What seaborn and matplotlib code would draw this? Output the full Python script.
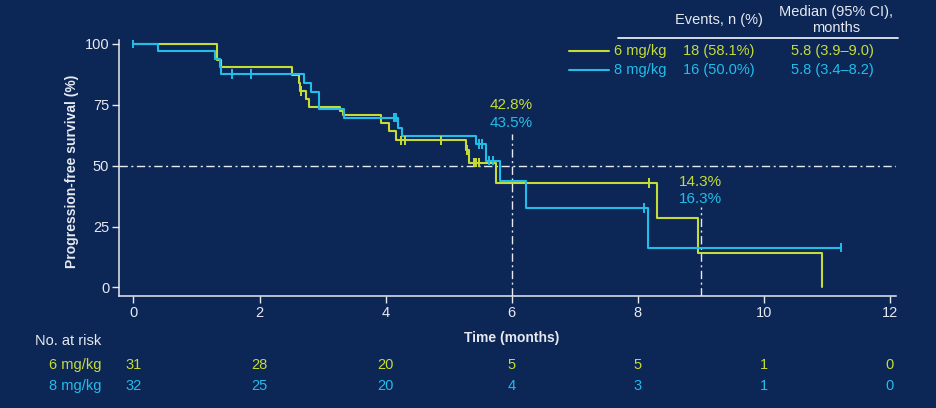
import numpy as np
import pandas as pd
import seaborn as sns
import matplotlib
matplotlib.use('Agg')
import matplotlib.pyplot as plt
from matplotlib.lines import Line2D
from matplotlib import font_manager

# KM curves (time in months, PFS in %)
t6 = [0, 1.33, 1.39, 2.52, 2.62, 2.65, 2.74, 2.78, 3.27, 3.32, 3.92, 4.05, 4.17, 5.27, 5.33, 5.76, 8.30, 8.96, 10.93]
s6 = [100, 93.5, 90.3, 87.1, 84.0, 80.6, 77.3, 73.9, 72.3, 70.6, 67.3, 64.1, 60.4, 56.4, 51.2, 42.8, 28.5, 14.3, 0]
cens6 = [2.66, 4.25, 4.31, 4.88, 5.30, 5.41, 5.44, 5.49, 8.18]

t8 = [0, 0.39, 1.30, 1.37, 1.39, 2.71, 2.82, 2.94, 3.34, 4.20, 4.26, 5.44, 5.60, 5.82, 6.23, 8.16, 11.23]
s8 = [100, 96.9, 93.8, 90.6, 87.5, 83.7, 80.2, 73.3, 69.6, 65.5, 62.3, 58.9, 52.0, 43.5, 32.6, 16.3, 16.3]
cens8 = [0.0, 1.57, 1.87, 4.13, 4.17, 5.48, 5.53, 5.64, 5.70, 8.10, 11.23]

arms = ['6 mg/kg', '8 mg/kg']
events = ['18 (58.1%)', '16 (50.0%)']
medians = ['5.8 (3.9\u20139.0)', '5.8 (3.4\u20138.2)']

landmarks = [6, 9]
lm_6 = ['42.8%', '14.3%']
lm_8 = ['43.5%', '16.3%']

risk_times = [0, 2, 4, 6, 8, 10, 12]
risk6 = [31, 28, 20, 5, 5, 1, 0]
risk8 = [32, 25, 20, 4, 3, 1, 0]

bg = '#0c2656'
fg = '#e6e9f0'
green = '#c6dc36'
blue = '#22bde8'
colors = {arms[0]: green, arms[1]: blue}

sns.set_style('white')
names = {f.name for f in font_manager.fontManager.ttflist}
narrow = 'Liberation Sans Narrow' if 'Liberation Sans Narrow' in names else 'Liberation Sans'
plt.rcParams['font.family'] = ['Liberation Sans', 'DejaVu Sans']

curves = pd.concat([
    pd.DataFrame({'time': t6, 'pfs': s6, 'arm': arms[0]}),
    pd.DataFrame({'time': t8, 'pfs': s8, 'arm': arms[1]}),
])

def at(t, s, c):
    idx = np.searchsorted(t, c, side='right') - 1
    return np.array(s)[idx]

cens = pd.concat([
    pd.DataFrame({'time': cens6, 'pfs': at(t6, s6, cens6), 'arm': arms[0]}),
    pd.DataFrame({'time': cens8, 'pfs': at(t8, s8, cens8), 'arm': arms[1]}),
])

fig = plt.figure(figsize=(9.36, 4.08), dpi=100, facecolor=bg)
ax = fig.add_axes([119/936, 1 - 296/408, 777/936, 256/408])
ax.set_facecolor(bg)

# reference lines
dash = (0, (6, 2.5, 1.5, 2.5))
ax.axhline(50, color=fg, lw=1, ls=dash, zorder=1)
for x, top in zip(landmarks, [63, 33]):
    ax.plot([x, x], [-3.5, top], color=fg, lw=1, ls=dash, zorder=1)

sns.lineplot(data=curves, x='time', y='pfs', hue='arm', palette=colors,
             drawstyle='steps-post', estimator=None, lw=1.5, legend=False, ax=ax, zorder=3)
sns.scatterplot(data=cens, x='time', y='pfs', hue='arm', palette=colors, marker='|',
                s=45, linewidth=1.4, legend=False, ax=ax, zorder=4)

ax.set_xlim(-0.23, 12.1)
ax.set_ylim(-3.5, 101.5)
ax.set_xticks(risk_times)
ax.set_yticks([0, 25, 50, 75, 100])
sns.despine(ax=ax)
for sp in ['left', 'bottom']:
    ax.spines[sp].set_color(fg)
    ax.spines[sp].set_linewidth(1.1)
ax.tick_params(bottom=True, left=True, colors=fg, length=5, width=1, labelsize=10.5,
               direction='out', pad=2)
for lab in ax.get_xticklabels() + ax.get_yticklabels():
    lab.set_family(narrow)

ax.set_xlabel('Time (months)', color=fg, fontsize=10, fontweight='bold', family=narrow)
ax.xaxis.set_label_coords(0.506, -0.135)
ax.set_ylabel('Progression-free survival (%)', color=fg, fontsize=10, fontweight='bold')
ax.yaxis.set_label_coords(-0.052, 0.486)

# landmark labels
for x, a, b, y in zip(landmarks, lm_6, lm_8, [74.9, 43.4]):
    ax.text(x, y, a, color=green, fontsize=11, ha='center', va='center')
    ax.text(x, y - 7.3, b, color=blue, fontsize=11, ha='center', va='center')

# number at risk
tr = ax.get_xaxis_transform()
ax.text(-0.51, -0.175, 'No. at risk', transform=tr, ha='right', va='center',
        color=fg, fontsize=10.5, family=narrow, clip_on=False)
for row, arm, yy in zip([risk6, risk8], arms, [-0.27, -0.35]):
    ax.text(-0.51, yy, arm, transform=tr, ha='right', va='center',
            color=colors[arm], fontsize=10.5, family=narrow, clip_on=False)
    for x, n in zip(risk_times, row):
        ax.text(x, yy, str(n), transform=tr, ha='center', va='center',
                color=colors[arm], fontsize=10.5, family=narrow, clip_on=False)

# legend table in the top right
def fx(px):
    return px / 936

def fy(py):
    return 1 - py / 408

fig.text(fx(719), fy(20), 'Events, n (%)', color=fg, fontsize=10.5, ha='center', va='center')
fig.text(fx(836), fy(20), 'Median (95% CI),\nmonths', color=fg, fontsize=10.5,
         ha='center', va='center', linespacing=1.1)
fig.add_artist(Line2D([fx(618), fx(898)], [fy(37.5), fy(37.5)], color=fg, lw=1.3))
for arm, ev, med, py in zip(arms, events, medians, [50.5, 70]):
    c = colors[arm]
    fig.add_artist(Line2D([fx(569), fx(609)], [fy(py), fy(py)], color=c, lw=1.5))
    fig.text(fx(614), fy(py), arm, color=c, fontsize=10.5, ha='left', va='center')
    fig.text(fx(719), fy(py), ev, color=c, fontsize=10.5, ha='center', va='center')
    fig.text(fx(832), fy(py), med, color=c, fontsize=10.5, ha='center', va='center')

fig.savefig('out.png', dpi=100, facecolor=bg)
